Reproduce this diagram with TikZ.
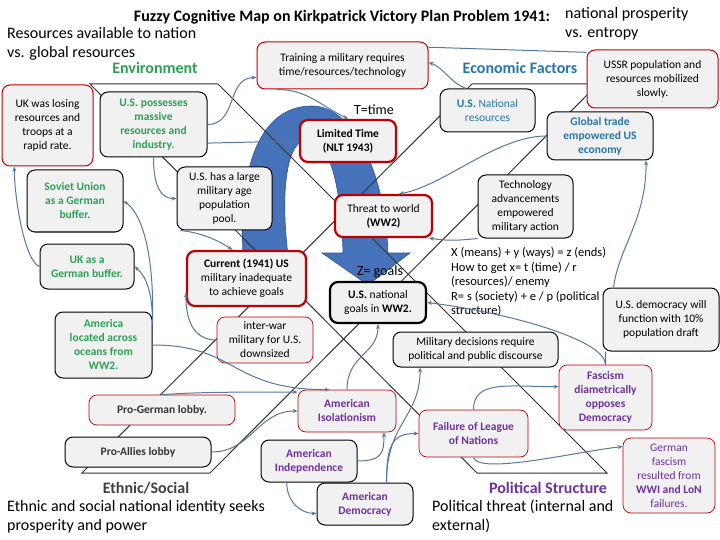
\documentclass[tikz,border=0pt]{standalone}
\usepackage{fontspec}
\setmainfont{Carlito}
\usepackage{tikz}
\usetikzlibrary{arrows.meta}

\definecolor{boxfill}{RGB}{241,241,241}
\definecolor{boxred}{RGB}{192,0,0}
\definecolor{linkblue}{RGB}{84,120,162}
\definecolor{envgreen}{RGB}{44,160,84}
\definecolor{econblue}{RGB}{38,118,168}
\definecolor{polpurple}{RGB}{112,48,160}
\definecolor{arrowblue}{RGB}{70,114,186}
\definecolor{arrowedge}{RGB}{47,85,151}

\tikzset{
    box/.style={rounded corners=8pt, fill=boxfill, align=center, inner sep=2pt,
        font=\fontsize{11.5}{14}\selectfont},
    redbox/.style={box, draw=boxred, line width=1pt},
    thinred/.style={box, draw=boxred, line width=0.7pt},
    keybox/.style={box, draw=boxred, line width=2.2pt},
    blackbox/.style={box, draw=black, line width=1pt},
    boldtext/.style={font=\fontsize{11.5}{14}\selectfont\bfseries},
    greentext/.style={boldtext, text=envgreen},
    bluetext/.style={text=econblue},
    purpletext/.style={text=polpurple},
    lobbytext/.style={boldtext, text=black!80},
    linkline/.style={draw=linkblue, line width=1pt},
    link/.style={linkline, -{Stealth[length=5pt,width=4pt]}},
    spine/.style={draw=black!80, line width=1pt},
    heading/.style={font=\fontsize{16}{18}\selectfont\bfseries},
    note/.style={anchor=west, align=left, inner sep=0pt, font=\fontsize{16}{19}\selectfont}
}

\begin{document}
\begin{tikzpicture}[x=1pt,y=-1pt]
        \path[use as bounding box, fill=white] (0,0) rectangle (720,540);

        \fill[arrowblue, draw=arrowedge, line width=0.6pt]
            (243,255) .. controls (238,150) and (268,106) .. (312,106)
            .. controls (352,106) and (385,170) .. (388,253)
            -- (410,253) -- (368,285) -- (322,253) -- (343,253)
            .. controls (341,185) and (330,140) .. (307,140)
            .. controls (287,140) and (280,190) .. (288,255) -- cycle;

        \coordinate(e1) at (90,84);
        \coordinate(e2) at (218,84);
        \coordinate(p1) at (607,473);
        \coordinate(p2) at (477,473);
        \coordinate(c1) at (472,84);
        \coordinate(c2) at (598,84);
        \coordinate(s1) at (210,473);
        \coordinate(s2) at (82,473);
        \draw[spine] (e1)--(e2)--(p1)--(p2)--cycle;
        \draw[spine] (c1)--(c2)--(s1)--(s2)--cycle;

        \node[heading] (title) at (342,17) {Fuzzy Cognitive Map on Kirkpatrick Victory Plan Problem 1941:};
        \node[note] (prosnote) at (565,24) {national prosperity\\vs. entropy};
        \node[note] (resnote) at (7,44) {Resources available to nation\\vs. global resources};
        \node[heading, text=envgreen] (envlabel) at (155,68) {Environment};
        \node[heading, text=econblue] (econlabel) at (520,68) {Economic Factors};
        \node[heading, text=black!75] (ethlabel) at (146,488) {Ethnic/Social};
        \node[heading, text=polpurple] (pollabel) at (548,488) {Political Structure};
        \node[note] (ethnote) at (7,516.5) {Ethnic and social national identity seeks\\prosperity and power};
        \node[note] (polnote) at (432,516.5) {Political threat (internal and\\external)};
        \node[font=\fontsize{14}{16}\selectfont] (tlabel) at (374,110) {T=time};
        \node[font=\fontsize{14}{16}\selectfont] (zlabel) at (380,272) {Z= goals};
        \node[anchor=west, align=left, inner sep=0pt, font=\fontsize{12.5}{14.5}\selectfont] (formula) at (451,282)
            {X (means) + y (ways) = z (ends)\\How to get x= t (time) / r\\(resources)/ enemy\\R= s (society) + e / p (political\\structure)};

        \node[redbox, minimum width=91pt, minimum height=81pt] (uklose) at (47.5,125.5) {UK was losing\\resources and\\troops at a\\rapid rate.};
        \node[blackbox, greentext, minimum width=107pt, minimum height=65pt] (uspos) at (153.5,124.5) {U.S. possesses\\massive\\resources and\\industry.};
        \node[redbox, minimum width=171pt, minimum height=47pt] (training) at (342.5,65.5) {Training a military requires\\time/resources/technology};
        \node[redbox, minimum width=131pt, minimum height=58pt] (ussr) at (652.5,79) {USSR population and\\resources mobilized\\slowly.};
        \node[blackbox, bluetext, minimum width=95pt, minimum height=43pt] (usnat) at (487.5,110.5) {\textbf{U.S.} National\\resources};
        \node[blackbox, boldtext, bluetext, minimum width=106pt, minimum height=48pt] (global) at (600,136) {Global trade\\empowered US\\economy};
        \node[keybox, boldtext, minimum width=96pt, minimum height=42pt] (limited) at (348,141) {Limited Time\\(NLT 1943)};
        \node[blackbox, minimum width=95pt, minimum height=63pt] (uslarge) at (224.5,198.5) {U.S. has a large\\military age\\population\\pool.};
        \node[blackbox, greentext, minimum width=96pt, minimum height=62pt] (soviet) at (75,201) {Soviet Union\\as a German\\buffer.};
        \node[blackbox, minimum width=95pt, minimum height=63pt] (tech) at (525.5,206.5) {Technology\\advancements\\empowered\\military action};
        \node[keybox, minimum width=97pt, minimum height=42pt] (threat) at (383.5,216) {Threat to world\\\textbf{(WW2)}};
        \node[blackbox, greentext, minimum width=94pt, minimum height=45pt] (ukbuf) at (87,266.5) {UK as a\\German buffer.};
        \node[keybox, minimum width=119pt, minimum height=55pt] (current) at (246.5,278.5) {\textbf{Current (1941) US}\\military inadequate\\to achieve goals};
        \node[blackbox, line width=2.2pt, minimum width=96pt, minimum height=41pt] (goals) at (378,302.5) {\textbf{U.S.} national\\goals in \textbf{WW2.}};
        \node[blackbox, minimum width=116pt, minimum height=63pt] (usdem) at (661,319.5) {U.S. democracy will\\function with 10\%\\population draft};
        \node[blackbox, greentext, minimum width=97pt, minimum height=66pt] (america) at (103.5,345) {America\\located across\\oceans from\\WW2.};
        \node[thinred, minimum width=96pt, minimum height=46pt] (interwar) at (265,340) {inter-war\\military for U.S.\\downsized};
        \node[blackbox, minimum width=165pt, minimum height=35pt] (military) at (475.5,349.5) {Military decisions require\\political and public discourse};
        \node[thinred, boldtext, purpletext, minimum width=93pt, minimum height=65pt] (fascism) at (605.5,397.5) {Fascism\\diametrically\\opposes\\Democracy};
        \node[thinred, lobbytext, minimum width=146pt, minimum height=30pt] (progerman) at (162,410) {Pro-German lobby.};
        \node[thinred, boldtext, purpletext, minimum width=98pt, minimum height=42pt] (isolation) at (347,411) {American\\Isolationism};
        \node[thinred, boldtext, purpletext, minimum width=109pt, minimum height=47pt] (league) at (473.5,433.5) {Failure of League\\of Nations};
        \node[blackbox, lobbytext, minimum width=146pt, minimum height=30pt] (proallies) at (138,452) {Pro-Allies lobby};
        \node[blackbox, boldtext, purpletext, minimum width=96pt, minimum height=42pt] (indep) at (309,461) {American\\Independence};
        \node[blackbox, boldtext, purpletext, minimum width=96pt, minimum height=42pt] (democ) at (365,504) {American\\Democracy};
        \node[thinred, purpletext, minimum width=92pt, minimum height=75pt] (german) at (669,475.5) {German\\fascism\\resulted from\\\textbf{WWI and LoN}\\failures.};

        \draw[link] (ukbuf.west) .. controls +(-15,-5) and +(0,30) .. (uklose.-129);
        \draw[link] (america.24) .. controls +(0,-30) and +(12,10) .. (ukbuf.east);
        \draw[link] (america.24) .. controls +(2,-80) and +(15,10) .. (soviet.east);
        \draw[link] (america.east) .. controls +(85,0) and +(-100,0) .. (isolation.129);
        \draw[link] (progerman.north) .. controls +(40,-3) and +(-40,0) .. (isolation.159);
        \draw[link] (proallies.east) .. controls +(40,0) and +(-40,0) .. (isolation.west);
        \draw[link] (indep.east) .. controls +(25,0) and +(0,20) .. (isolation.-30);
        \draw[link] (indep.-136) .. controls +(0,20) and +(-15,0) .. (democ.-169);
        \draw[link] (democ.45) .. controls +(0,-60) and +(0,50) .. (military.-162);
        \draw[link] (democ.45) .. controls +(0,-40) and +(-25,0) .. (league.west);
        \draw[link] (isolation.north) .. controls +(0,-35) and +(0,30) .. (goals.south);
        \draw[link] (league.north) .. controls +(0,-30) and +(-50,0) .. (fascism.167);
        \draw[link] (league.south) .. controls +(5,18) and +(-45,5) .. (german.148);
        \draw[link] (fascism.north) .. controls +(0,-25) and +(80,10) .. (goals.east);
        \draw[linkline] (usdem.-150) -- (fascism.north);
        \draw[link] (usdem.146) .. controls +(5,-40) and +(0,60) .. (global.-28);
        \draw[link] (tech.south west) .. controls +(-20,2) and +(20,3) .. (threat.-26);
        \draw[link] (global.west) .. controls +(-50,0) and +(45,-8) .. (threat.55);
        \draw[link] (usnat.134) .. controls +(-15,-5) and +(15,5) .. (training.2);
        \draw[linkline] (training.12) -- (ussr.158);
        \draw[link] (training.-160) .. controls +(30,0) and +(-30,-15) .. (limited.north);
        \draw[link] (uspos.east) .. controls +(30,0) and +(-30,0) .. (training.-172);
        \draw[link] (uspos.-19) -- (limited.west);
        \draw[link] (uspos.south) .. controls +(0,30) and +(-15,0) .. (uslarge.west);
        \draw[link] (uslarge.-144) .. controls +(20,2) and +(-15,-10) .. (current.116);
        \draw[link] (interwar.west) .. controls +(-25,0) and +(0,25) .. (current.-167);
    \end{tikzpicture}
\end{document}
